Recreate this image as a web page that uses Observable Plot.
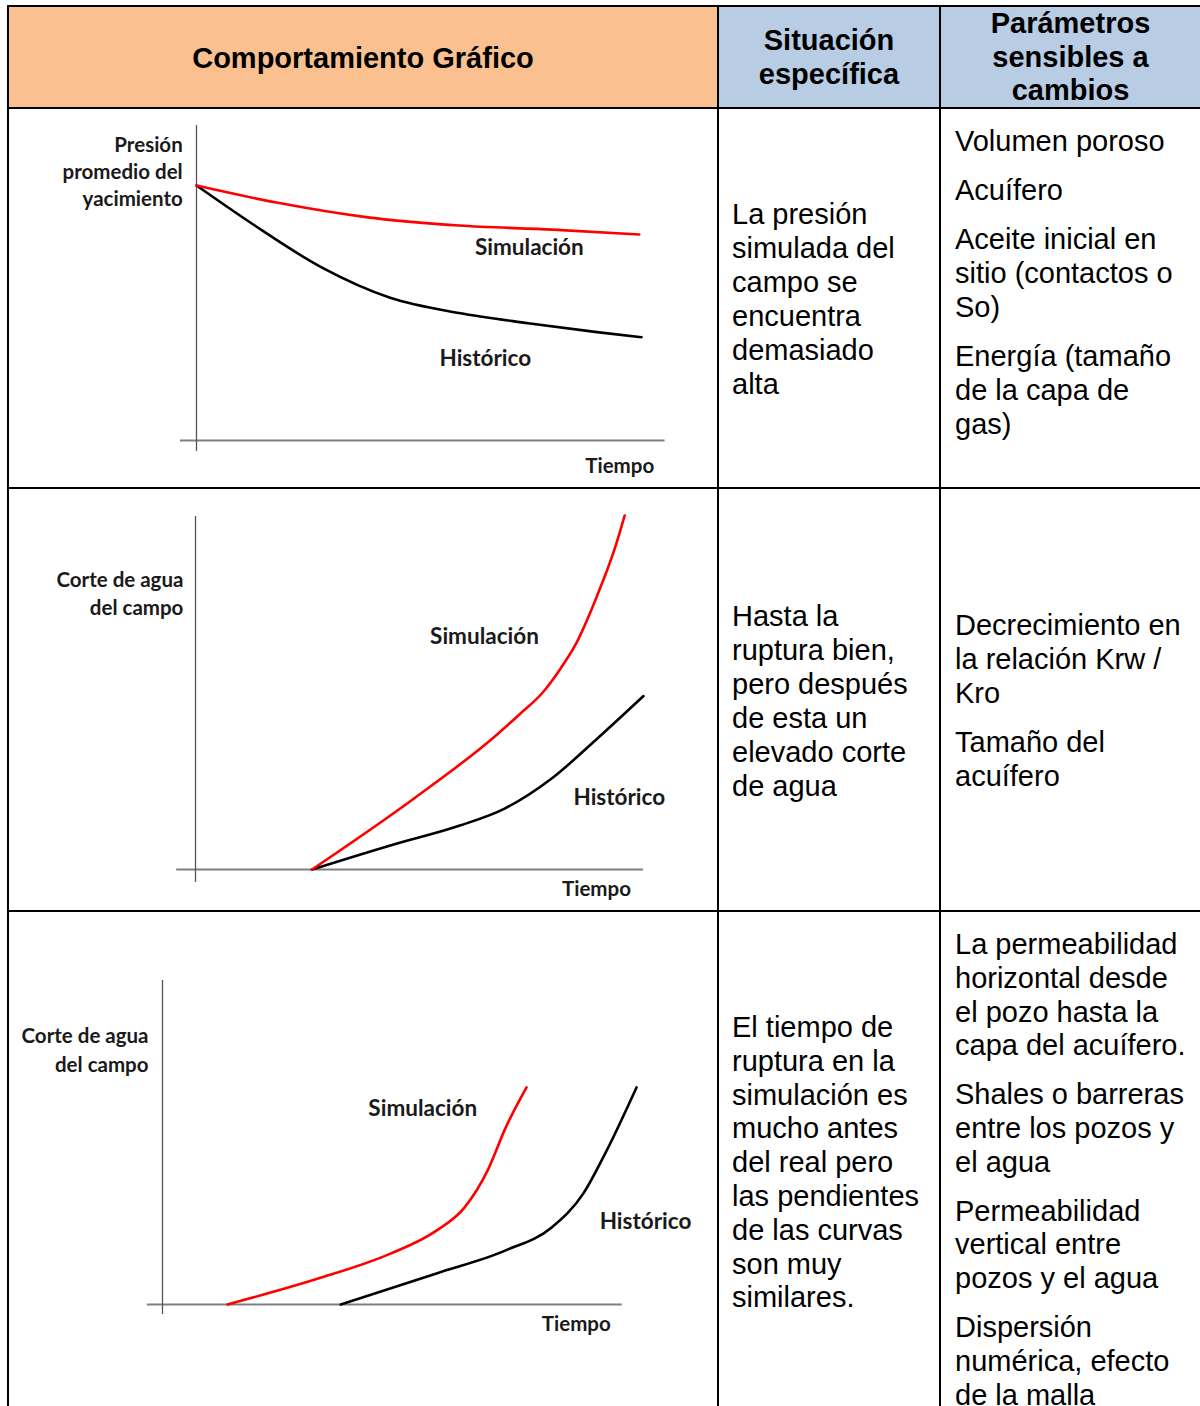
<!DOCTYPE html>
<html><head><meta charset="utf-8">
<script src="https://cdn.jsdelivr.net/npm/d3@7"></script>
<script src="https://cdn.jsdelivr.net/npm/@observablehq/plot@0.6"></script>
<style>
body{margin:0;width:1200px;height:1406px;overflow:hidden;background:#fff;position:relative;font-family:Arial,"Liberation Sans",Helvetica,sans-serif;color:#000}
.fill{position:absolute}
.line{position:absolute;background:#000;z-index:5}
.hdr{position:absolute;font-weight:bold;font-size:29px;line-height:33.5px;text-align:center;z-index:3}
.txt{position:absolute;font-size:29px;line-height:34px;white-space:nowrap;z-index:3}
.txt p{margin:0 0 15px 0}
.chart{position:absolute;left:0;width:718px;z-index:2}
</style></head>
<body>
<div class="fill" style="left:9px;top:7px;width:708px;height:100px;background:#FAC08F"></div>
<div class="fill" style="left:719px;top:7px;width:220px;height:100px;background:#B8CCE4"></div>
<div class="fill" style="left:941px;top:7px;width:259px;height:100px;background:#B8CCE4"></div>

<div class="line" style="left:7px;top:5px;width:1193px;height:2px"></div>
<div class="line" style="left:7px;top:107px;width:1193px;height:2px"></div>
<div class="line" style="left:7px;top:487px;width:1193px;height:2px"></div>
<div class="line" style="left:7px;top:910px;width:1193px;height:2px"></div>
<div class="line" style="left:7px;top:5px;width:2px;height:1401px"></div>
<div class="line" style="left:717px;top:5px;width:2px;height:1401px"></div>
<div class="line" style="left:939px;top:5px;width:2px;height:1401px"></div>

<div id="h1" class="hdr" style="left:9px;width:708px;top:42px"></div>
<div id="h2" class="hdr" style="left:719px;width:220px;top:24px"></div>
<div id="h3" class="hdr" style="left:941px;width:259px;top:7px"></div>

<div id="s0" class="txt" style="left:732px;top:197px"></div>
<div id="p0" class="txt" style="left:955px;top:124px"></div>
<div id="s1" class="txt" style="left:732px;top:599px"></div>
<div id="p1" class="txt" style="left:955px;top:608px"></div>
<div id="s2" class="txt" style="left:732px;top:1011px;line-height:33.8px"></div>
<div id="p2" class="txt" style="left:955px;top:928px;line-height:33.8px"></div>

<div id="c0" class="chart" style="top:110px;height:377px"></div>
<div id="c1" class="chart" style="top:490px;height:420px"></div>
<div id="c2" class="chart" style="top:913px;height:493px"></div>

<script>
// ---- Table text ----
const headers = [["Comportamiento Gráfico"], ["Situación", "específica"], ["Parámetros", "sensibles a", "cambios"]];
const situacion = [
  ["La presión", "simulada del", "campo se", "encuentra", "demasiado", "alta"],
  ["Hasta la", "ruptura bien,", "pero después", "de esta un", "elevado corte", "de agua"],
  ["El tiempo de", "ruptura en la", "simulación es", "mucho antes", "del real pero", "las pendientes", "de las curvas", "son muy", "similares."]
];
const parametros = [
  [["Volumen poroso"], ["Acuífero"], ["Aceite inicial en", "sitio (contactos o", "So)"], ["Energía (tamaño", "de la capa de", "gas)"]],
  [["Decrecimiento en", "la relación Krw /", "Kro"], ["Tamaño del", "acuífero"]],
  [["La permeabilidad", "horizontal desde", "el pozo hasta la", "capa del acuífero."], ["Shales o barreras", "entre los pozos y", "el agua"], ["Permeabilidad", "vertical entre", "pozos y el agua"], ["Dispersión", "numérica, efecto", "de la malla"]]
];

// ---- Chart data (tiempo t, valor v) ----
// Chart 1: Presión promedio del yacimiento
const c1SimT = [0, 1.8, 3.85, 5.9, 8, 9.95];
const c1SimV = [100, 93.3, 87.5, 84.3, 82.7, 80.8];
const c1HisT = [0, 1.25, 2.8, 4.35, 5.9, 7.45, 9, 10];
const c1HisV = [100, 85, 68, 56, 50, 46, 42.5, 40.5];
// Chart 2: Corte de agua del campo
const c2SimT = [2.6, 4.87, 6.72, 7.23, 7.75, 8.15, 8.46, 8.97, 9.38, 9.58];
const c2SimV = [0, 20, 38, 43.8, 50, 56.8, 63, 77.5, 91.5, 100];
const c2HisT = [2.6, 4.35, 5.9, 6.9, 7.95, 8.97, 10];
const c2HisV = [0, 6.8, 12.4, 17.2, 25.7, 37, 49];
// Chart 3: Corte de agua del campo (ruptura temprana)
const c3SimT = [1.37, 3.35, 4.81, 5.78, 6.37, 6.86, 7.24, 7.68];
const c3SimV = [0, 8.3, 15.7, 22.8, 29.9, 41.4, 54.6, 67];
const c3HisT = [3.76, 5.78, 7.24, 8.21, 8.88, 9.37, 10];
const c3HisV = [0, 9.6, 16.7, 23.8, 34.3, 47.5, 67];

const yLabels = ["Presión\npromedio del\nyacimiento", "Corte de agua\ndel campo", "Corte de agua\ndel campo"];

// ---- Fill table text ----
headers.forEach((h, i) => { document.getElementById("h" + (i + 1)).innerHTML = h.join("<br>"); });
situacion.forEach((s, i) => { document.getElementById("s" + i).innerHTML = s.join("<br>"); });
parametros.forEach((ps, i) => {
  document.getElementById("p" + i).innerHTML = ps.map(p => "<p>" + p.join("<br>") + "</p>").join("");
});

// ---- Charts ----
const FONT = "Lato, 'Open Sans', sans-serif";
const axOpt = {fontFamily: FONT, fontSize: 20.5, fontWeight: "bold", fill: "#1a1a1a", text: d => d};
const serOpt = {fontFamily: FONT, fontSize: 22.5, fontWeight: "bold", fill: "#1a1a1a", text: d => d};

function drawChart(id, cfg) {
  const sim = cfg.simT.map((t, i) => ({t, v: cfg.simV[i]}));
  const his = cfg.hisT.map((t, i) => ({t, v: cfg.hisV[i]}));
  const plot = Plot.plot({
    width: 718, height: cfg.h, margin: 0,
    x: {domain: [0, 10], range: cfg.xr, axis: null},
    y: {domain: [0, 100], range: cfg.yr, axis: null},
    style: {background: "transparent", overflow: "visible", maxWidth: "none"},
    marks: [
      Plot.ruleY([0], {x1: cfg.ax[0], x2: cfg.ax[1], stroke: "#7f7f7f", strokeWidth: 2}),
      Plot.ruleX([0], {y1: cfg.ay[0], y2: cfg.ay[1], stroke: "#555", strokeWidth: 1.3}),
      Plot.line(his, {x: "t", y: "v", stroke: "#000", strokeWidth: 2.6, curve: "monotone-x"}),
      Plot.line(sim, {x: "t", y: "v", stroke: "#ff0000", strokeWidth: 2.6, curve: "monotone-x"}),
      Plot.text([cfg.yLabel], {...axOpt, x: cfg.yl[0], y: cfg.yl[1], textAnchor: "end", lineHeight: cfg.lh}),
      Plot.text(["Simulación"], {...serOpt, x: cfg.simL[0], y: cfg.simL[1]}),
      Plot.text(["Histórico"], {...serOpt, x: cfg.hisL[0], y: cfg.hisL[1]}),
      Plot.text(["Tiempo"], {...axOpt, x: cfg.tL[0], y: cfg.tL[1]})
    ]
  });
  document.getElementById(id).appendChild(plot);
}

drawChart("c0", {h: 377, xr: [196, 641], yr: [330, 75], simT: c1SimT, simV: c1SimV, hisT: c1HisT, hisV: c1HisV,
  ax: [-0.36, 10.53], ay: [-4.3, 123.5], yLabel: yLabels[0], yl: [-0.31, 105.9], lh: 1.32,
  simL: [7.48, 75.7], hisL: [6.49, 32.2], tL: [9.51, -10.2]});
drawChart("c1", {h: 420, xr: [195, 643], yr: [379, 25], simT: c2SimT, simV: c2SimV, hisT: c2HisT, hisV: c2HisV,
  ax: [-0.42, 10], ay: [-3.7, 99.7], yLabel: yLabels[1], yl: [-0.27, 78.5], lh: 1.37,
  simL: [6.45, 65.8], hisL: [9.46, 20.3], tL: [8.95, -5.65]});
drawChart("c2", {h: 493, xr: [162, 636], yr: [391, 67], simT: c3SimT, simV: c3SimV, hisT: c3HisT, hisV: c3HisV,
  ax: [-0.32, 9.7], ay: [-3.1, 100], yLabel: yLabels[2], yl: [-0.295, 79.2], lh: 1.41,
  simL: [5.49, 60.5], hisL: [10.19, 25.6], tL: [8.73, -6.2]});
</script>
</body></html>
